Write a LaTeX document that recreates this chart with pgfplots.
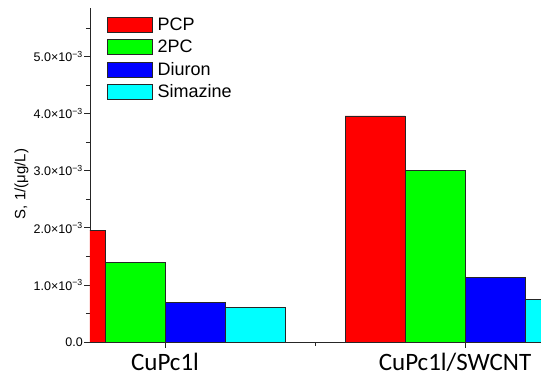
\documentclass[border=0pt]{standalone}
\usepackage{fontspec}
\setmainfont{Liberation Sans}
\newfontfamily\carlito{Carlito}
\usepackage{pgfplots}
\pgfplotsset{compat=1.18}
\pgfplotsset{barleg/.style={legend image code/.code={\draw[##1,draw=black!85,line width=0.7pt] (0pt,-7.5pt) rectangle (45pt,7.5pt);}}}
\begin{document}
\begin{tikzpicture}
\useasboundingbox (0,0) rectangle (550pt,381pt);
\begin{axis}[
  at={(90pt,39pt)}, anchor=south west,
  scale only axis, width=451pt, height=334.5pt,
  xmin=-0.25, xmax=1.253, ymin=0, ymax=5.86e-3,
  axis x line*=bottom, axis y line*=left,
  axis line style={line width=0.9pt, black!85},
  tick align=outside,
  major tick length=5.5pt, minor tick length=4pt,
  every tick/.style={line width=0.8pt, black!85},
  xtick={0,1}, minor xtick={0.5},
  xticklabels={CuPc1l, {CuPc1l/SWCNT\hspace*{20pt}}},
  xticklabel style={font=\carlito\fontsize{25}{29}\selectfont, inner sep=1pt, yshift=-4pt},
  ytick={0,0.001,0.002,0.003,0.004,0.005},
  minor ytick={0.0005,0.0015,0.0025,0.0035,0.0045,0.0055},
  yticklabels={0.0, 1.0×10\textsuperscript{−3}, 2.0×10\textsuperscript{−3}, 3.0×10\textsuperscript{−3}, 4.0×10\textsuperscript{−3}, 5.0×10\textsuperscript{−3}},
  yticklabel style={font=\fontsize{12.5}{14}\selectfont, inner sep=1.5pt},
  scaled y ticks=false,
  ylabel={S, 1/(μg/L)},
  ylabel style={at={(axis description cs:-0.152,0.472)}, anchor=center, font=\fontsize{15}{17}\selectfont},
  legend style={at={(axis description cs:0.037,0.972)}, anchor=north west, draw=none, fill=none, inner sep=0pt,
    font=\fontsize{18}{21}\selectfont, row sep=6pt, nodes={inner sep=1pt},
    /tikz/every odd column/.append style={column sep=4pt}},
  legend cell align=left,
]
\addplot[ybar, bar width=0.2, bar shift=-0.3, fill={rgb,255:red,255;green,0;blue,0}, draw=black!85, line width=0.7pt, barleg] coordinates {(0,1.95e-3) (1,3.96e-3)};
\addlegendentry{PCP}
\addplot[ybar, bar width=0.2, bar shift=-0.1, fill={rgb,255:red,0;green,255;blue,0}, draw=black!85, line width=0.7pt, barleg] coordinates {(0,1.40e-3) (1,3.00e-3)};
\addlegendentry{2PC}
\addplot[ybar, bar width=0.2, bar shift=0.1, fill={rgb,255:red,0;green,0;blue,255}, draw=black!85, line width=0.7pt, barleg] coordinates {(0,0.70e-3) (1,1.13e-3)};
\addlegendentry{Diuron}
\addplot[ybar, bar width=0.2, bar shift=0.3, fill={rgb,255:red,0;green,255;blue,255}, draw=black!85, line width=0.7pt, barleg] coordinates {(0,0.60e-3) (1,0.75e-3)};
\addlegendentry{Simazine}
\end{axis}
\end{tikzpicture}
\end{document}
